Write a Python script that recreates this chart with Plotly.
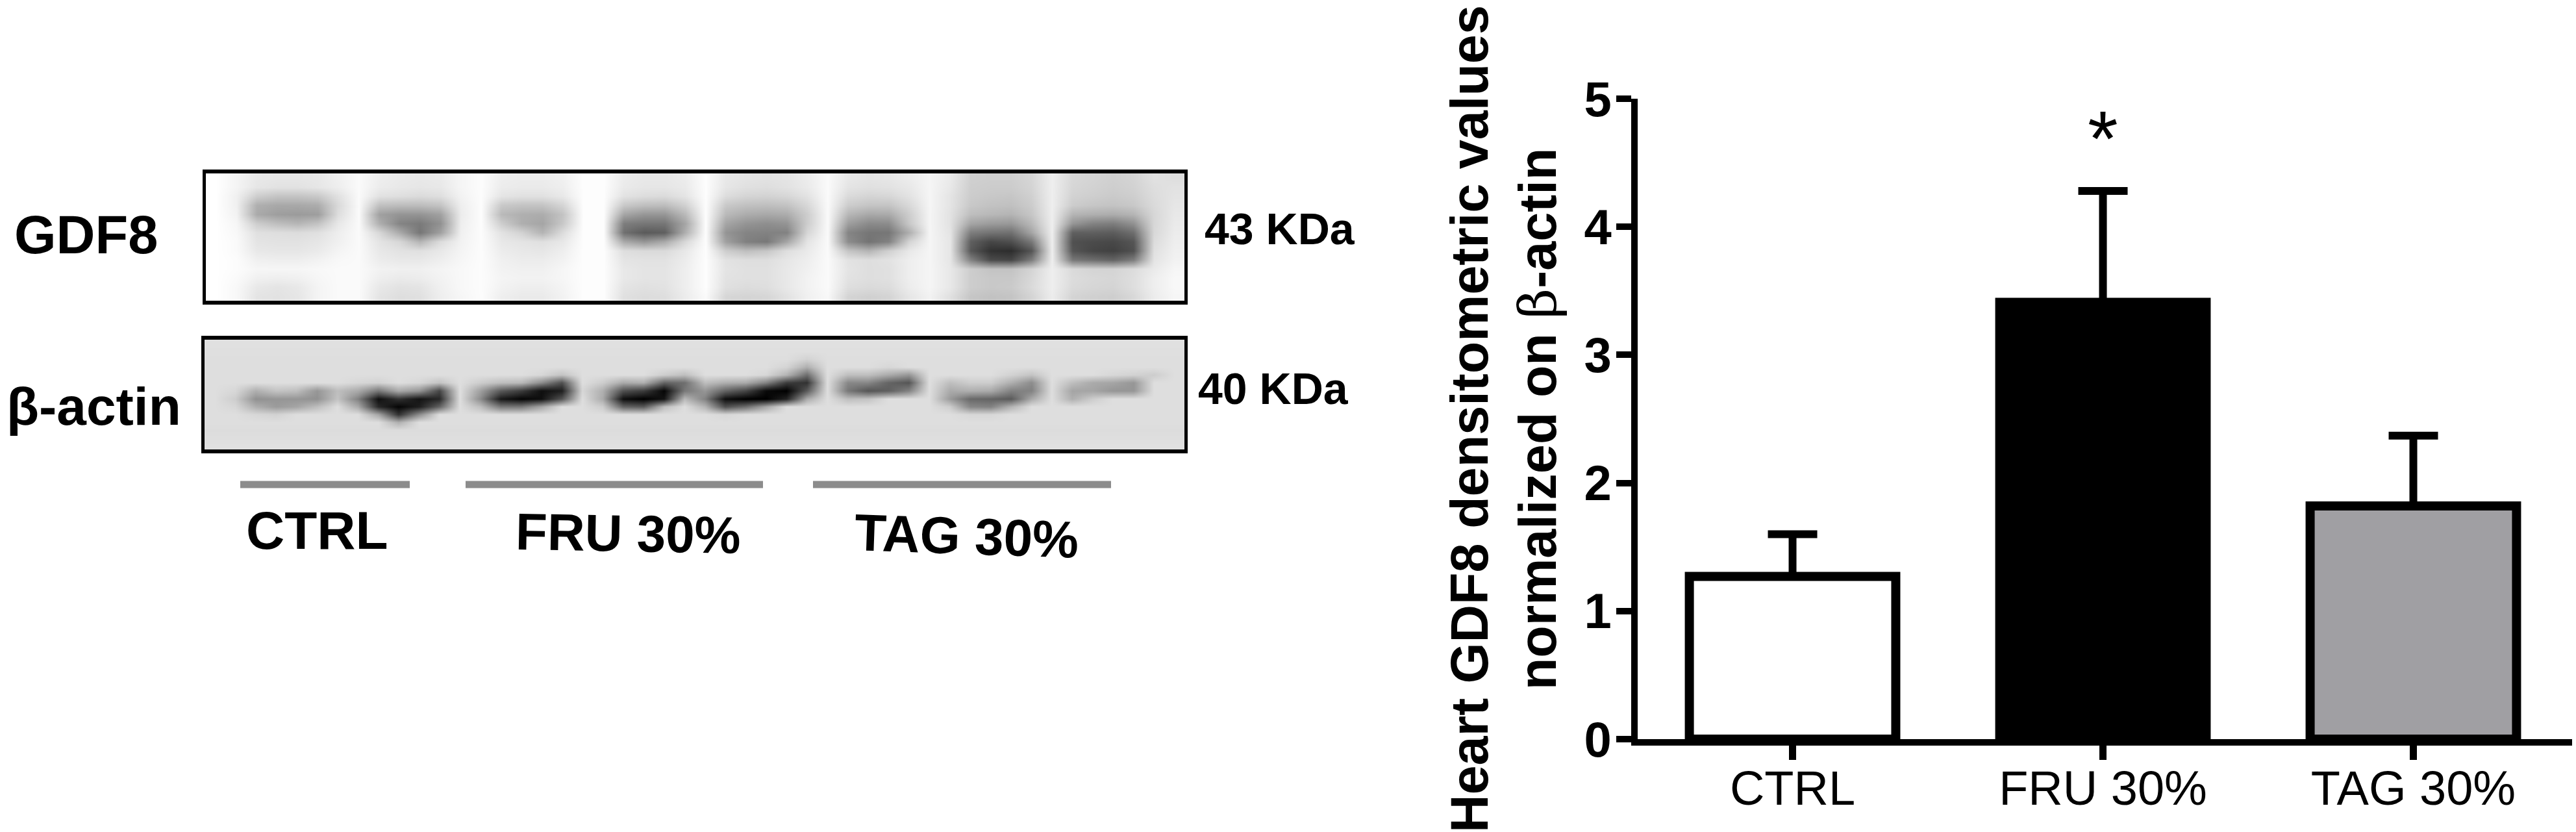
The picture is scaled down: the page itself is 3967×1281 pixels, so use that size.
import plotly.graph_objects as go

W, H = 3967, 1281
FONT = "Liberation Sans"

# --- bar chart data ---
categories = ["CTRL", "FRU 30%", "TAG 30%"]
positions = [0, 1, 2]
means = [1.27, 3.41, 1.82]
errors_up = [0.33, 0.87, 0.55]
bar_colors = ["#ffffff", "#000000", "#a09fa3"]
y_ticks = [0, 1, 2, 3, 4, 5]
y_tick_labels = ["0", "1", "2", "3", "4", "5"]

# --- blot densities, grey levels (rows top to bottom) ---
gdf8_blot = [
    [255,244, 232,230,230,232,240, 250, 238,234,232,234,245, 252, 238,236,236,240, 253,253, 236,232,232,236, 253, 232,228,226,228,236, 250, 232,228,230,236, 245,234, 208,206,206,214, 238, 216,212,208,212,225, 222],
    [255,244, 230,226,226,230,238, 250, 236,232,230,232,245, 252, 236,234,234,238, 253,253, 234,230,230,234, 253, 230,224,222,226,234, 250, 228,224,226,232, 245,232, 206,204,204,212, 238, 214,210,206,210,222, 226],
    [255,240, 205,195,195,200,225, 250, 225,222,218,222,242, 252, 228,224,224,232, 253,253, 226,220,218,228, 253, 220,212,210,214,226, 250, 218,212,214,226, 245,228, 204,200,198,208, 238, 210,206,202,206,220, 228],
    [255,240, 175,168,168,172,218, 250, 192,188,188,195,238, 252, 200,195,195,212, 253,253, 200,190,188,208, 253, 200,192,190,194,215, 250, 204,196,196,216, 245,228, 200,194,192,204, 238, 204,198,195,200,218, 230],
    [255,242, 170,158,155,158,222, 250, 160,148,148,160,236, 252, 185,175,172,195, 253,253, 165,150,150,185, 253, 185,172,168,172,205, 250, 182,168,170,205, 245,226, 190,184,180,198, 238, 180,175,172,180,215, 232],
    [255,246, 205,190,182,195,232, 250, 175,132,122,145,238, 252, 205,175,165,200, 253,253, 125,118,118,165, 253, 165,148,142,148,205, 250, 158,138,140,200, 245,226, 165,155,152,185, 238, 150,130,125,145,215, 234],
    [255,248, 224,222,220,224,238, 250, 215,170,118,160,240, 252, 226,210,180,220, 253,253, 112,90,95,175, 253, 148,132,130,130,214, 250, 132,118,118,175, 245,228, 125,115,112,165, 238, 95,95,92,110,216, 236],
    [255,250, 228,226,226,230,240, 250, 228,215,180,220,242, 252, 232,228,224,232, 253,253, 170,150,170,216, 253, 160,128,120,165,228, 250, 140,115,130,212, 245,230, 95,70,78,120, 238, 80,75,72,85,220, 238],
    [255,250, 232,230,230,234,244, 250, 232,226,224,232,244, 252, 236,232,230,238, 253,253, 222,218,218,232, 253, 205,190,198,222,234, 250, 196,180,208,232, 245,230, 88,50,45,85, 238, 85,70,65,80,224, 240],
    [255,252, 240,238,238,242,248, 250, 236,232,232,238,246, 252, 240,236,236,242, 253,253, 228,226,226,236, 253, 226,222,222,230,238, 250, 226,222,226,238, 245,230, 130,75,70,125, 238, 120,110,100,125,228, 242],
    [255,252, 246,246,246,248,250, 250, 242,240,240,244,248, 252, 242,240,240,246, 253,253, 232,228,228,238, 253, 228,224,224,232,240, 250, 228,222,224,238, 245,232, 205,195,195,212, 238, 218,212,212,220,234, 246],
    [255,250, 240,238,240,246,250, 250, 238,234,236,242,248, 252, 244,242,242,246, 253,253, 232,228,228,238, 253, 226,224,224,232,242, 250, 226,222,224,238, 245,232, 205,200,200,216, 238, 220,216,214,222,238, 248],
    [255,248, 232,228,232,244,250, 250, 232,226,228,240,248, 252, 242,238,238,244, 253,253, 228,224,226,238, 253, 224,220,222,232,242, 250, 222,218,220,236, 245,232, 205,200,202,218, 238, 218,214,212,222,238, 248],
    [255,248, 228,226,230,244,250, 250, 228,222,224,238,246, 252, 238,234,234,242, 253,253, 224,220,222,236, 250, 214,212,214,226,240, 248, 212,208,212,230, 242,224, 198,194,196,212, 236, 212,208,206,216,236, 246],
]
actin_blot = [
    [224] * 48,
    [223] * 48,
    [222,222, 222,222,222,222,222, 222,222,222,222,222,222, 222,222,222,222,222,222, 222,222,222,222,222, 222,222,222,222,222,210,222, 222,222,222,222,222, 222,222,222,222,222, 222,222,222,222,222,222,222],
    [222,222, 222,222,222,222,222, 222,222,222,222,222,222, 222,222,222,222,222,222, 222,222,222,222,222, 222,222,222,222,212,175,222, 222,222,215,222,222, 222,222,222,222,222, 222,222,222,222,222,222,222],
    [222,222, 222,222,222,222,222, 222,222,222,222,222,222, 222,222,222,215,195,222, 222,222,222,205,190, 222,222,222,215,180,110,222, 190,190,170,150,222, 222,222,222,210,195, 222,222,222,215,210,205,222],
    [222,222, 222,222,222,222,222, 215,210,222,215,195,222, 205,190,185,140,80,222, 205,170,175,100,110, 190,175,170,130,60,50,222, 135,135,100,85,222, 190,205,205,175,140, 222,190,170,165,150,222,222],
    [222,215, 175,195,190,150,190, 170,120,170,150,70,222, 160,90,60,15,30,215, 175,80,60,5,120, 150,100,70,10,0,90,222, 120,85,95,130,222, 170,175,170,130,130, 222,165,165,150,150,222,222],
    [222,205, 145,150,150,145,195, 130,15,50,20,40,222, 140,25,5,15,85,222, 170,15,0,20,185, 130,15,0,0,35,170,222, 190,195,222,222,222, 155,105,100,90,170, 222,175,205,222,222,222,222],
    [222,215, 175,155,165,190,222, 170,40,5,30,100,222, 190,120,120,165,222,222, 205,100,90,190,222, 180,80,110,165,222,222,222, 222,222,222,222,222, 205,135,130,180,222, 222,222,222,222,222,222,222],
    [222,222, 215,210,222,222,222, 222,165,50,140,222,222, 222,222,222,222,222,222, 222,222,222,222,222, 222,215,222,222,222,222,222, 222,222,222,222,222, 222,215,215,222,222, 222,222,222,222,222,222,222],
    [222,222, 222,222,222,222,222, 222,222,175,222,222,222, 222,222,222,222,222,222, 222,222,222,222,222, 222,222,222,222,222,222,222, 222,222,222,222,222, 222,222,222,222,222, 222,222,222,222,222,222,222],
    [220] * 48,
    [222] * 48,
    [224] * 48,
]

# --- texts ---
blot_labels = ["GDF8", "β-actin"]
weight_labels = ["43 KDa", "40 KDa"]
group_labels = categories
y_title = ("<b>Heart GDF8 densitometric values<br>normalized on "
           "<span style=\"font-family:'DejaVu Serif';font-weight:normal\">β</span>-actin</b>")


def dx(a, b):
    return [a / W, b / W]


def dy(top, bottom):
    return [1 - bottom / H, 1 - top / H]


def bold(s):
    return f"<b>{s}</b>"


fig = go.Figure()

fig.add_trace(go.Bar(
    x=positions, y=means, width=0.665,
    marker=dict(color=bar_colors, line=dict(color="#000000", width=14)),
    error_y=dict(type="data", symmetric=False, array=errors_up,
                 arrayminus=[0, 0, 0], color="#000000", thickness=12, width=38),
    showlegend=False, hoverinfo="skip", xaxis="x", yaxis="y",
))
for z, xa, ya in [(gdf8_blot, "x2", "y2"), (actin_blot, "x3", "y3")]:
    fig.add_trace(go.Heatmap(
        z=z, xaxis=xa, yaxis=ya, zmin=0, zmax=255, zsmooth="best",
        colorscale=[[0, "#000000"], [1, "#ffffff"]], showscale=False, hoverinfo="skip",
    ))

blot_axis_x = dict(range=[-0.5, 47.5], showticklabels=False, ticks="", showgrid=False, zeroline=False,
                   showline=True, mirror=True, linecolor="#000000", linewidth=6, automargin=False)
blot_axis_y = dict(range=[13.5, -0.5], showticklabels=False, ticks="", showgrid=False, zeroline=False,
                   showline=True, mirror=True, linecolor="#000000", linewidth=5, automargin=False)

fig.update_layout(
    width=W, height=H, margin=dict(l=0, r=0, t=0, b=0, autoexpand=False),
    paper_bgcolor="#ffffff", plot_bgcolor="rgba(0,0,0,0)",
    font=dict(family=FONT, color="#000000"),
    xaxis=dict(domain=dx(2522, 3961), range=[-0.499, 2.5115], tickmode="array",
               tickvals=positions, ticktext=categories, ticks="outside", ticklen=22,
               tickwidth=11, tickcolor="#000000", showline=True, linewidth=10,
               linecolor="#000000", showgrid=False, zeroline=False, automargin=False,
               ticklabelstandoff=-20,
               tickfont=dict(family=FONT, size=74, color="#000000")),
    yaxis=dict(domain=dy(152, 1138), range=[0, 5], tickmode="array",
               tickvals=y_ticks, ticktext=[bold(t) for t in y_tick_labels],
               ticks="outside", ticklen=23, tickwidth=10, tickcolor="#000000",
               showline=True, linewidth=10, linecolor="#000000", showgrid=False,
               zeroline=False, automargin=False, ticklabelstandoff=-8,
               tickfont=dict(family=FONT, size=76, color="#000000"),
               title=dict(text=y_title, font=dict(family=FONT, size=81, color="#000000"),
                          standoff=20)),
    xaxis2=dict(domain=dx(317, 1824), anchor="y2", **blot_axis_x),
    yaxis2=dict(domain=dy(267, 463), anchor="x2", **blot_axis_y),
    xaxis3=dict(domain=dx(315, 1824), anchor="y3", **blot_axis_x),
    yaxis3=dict(domain=dy(523, 692), anchor="x3", **blot_axis_y),
)


def label(text, cx, cy, size, angle=0):
    fig.add_annotation(text=bold(text), x=cx / W, y=1 - cy / H, xref="paper", yref="paper",
                       xanchor="center", yanchor="middle", showarrow=False, textangle=angle,
                       font=dict(family=FONT, size=size, color="#000000"))


label(blot_labels[0], 132, 361, 83)
label(blot_labels[1], 144, 625, 82)
label(weight_labels[0], 1971, 352, 68)
label(weight_labels[1], 1961, 598, 68)
label(group_labels[0], 488, 816, 82)
label(group_labels[1], 967, 821, 80, 1)
label(group_labels[2], 1488, 825, 80, 2)

for x0, x1 in [(370, 631), (717, 1175), (1252, 1711)]:
    fig.add_shape(type="line", xref="paper", yref="paper", x0=x0 / W, x1=x1 / W,
                  y0=1 - 746 / H, y1=1 - 746 / H, line=dict(color="#8c8c8c", width=11))

fig.add_annotation(text="*", x=1, y=4.69, xref="x", yref="y", showarrow=False,
                   xanchor="center", yanchor="middle",
                   font=dict(family=FONT, size=120, color="#000000"))

fig.write_html("out.html", config={"displayModeBar": False},
               post_script="document.body.style.margin='0';")
